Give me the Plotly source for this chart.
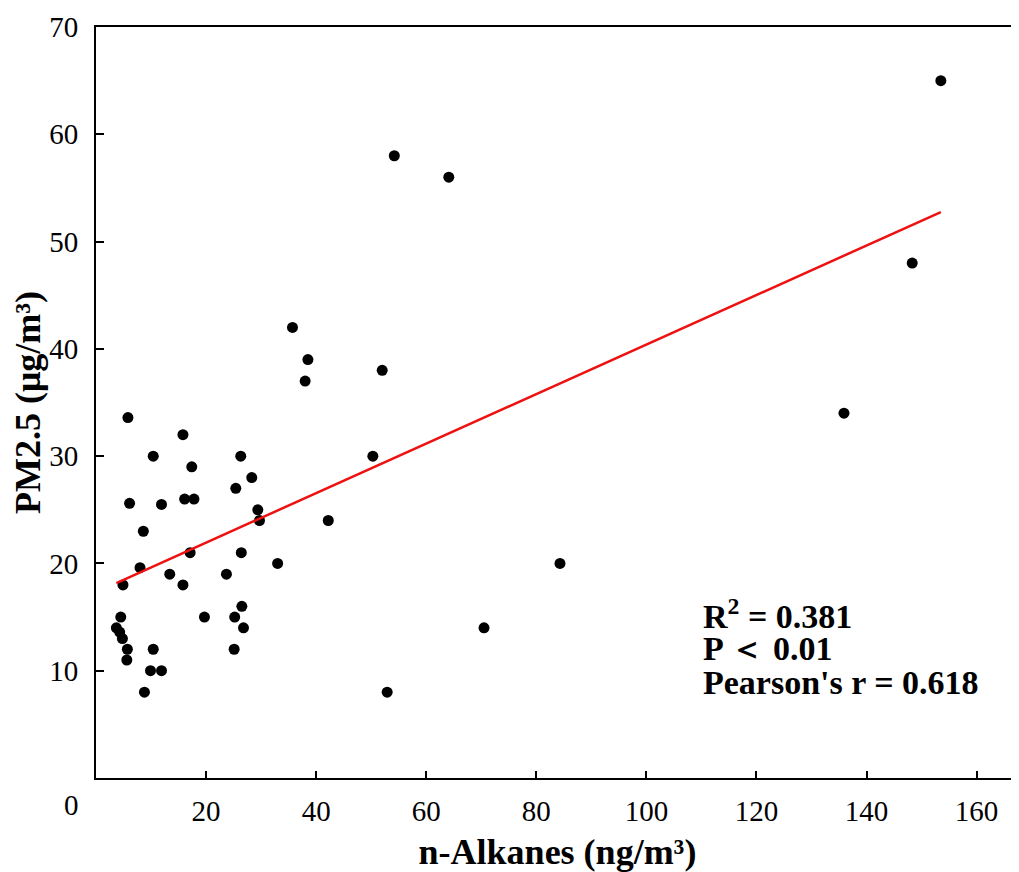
import plotly.graph_objects as go

# n-Alkanes (ng/m3) and PM2.5 (ug/m3)
alkanes = [5.8, 15.8, 10.4, 26.3, 17.4, 28.3, 25.4, 16.1, 17.8, 6.1,
           11.9, 29.4, 29.7, 42.2, 8.6, 17.1, 26.4, 8.0, 33.0, 13.4,
           23.7, 4.9, 15.8, 4.5, 19.7, 25.2, 26.5, 3.7, 4.3, 4.8,
           26.8, 5.7, 10.4, 25.1, 5.6, 9.9, 11.9, 8.8, 35.7, 38.5,
           38.0, 52.0, 50.3, 84.3, 70.5, 52.9, 54.2, 64.1, 153.5, 148.3,
           135.9]
pm25 = [33.6, 32.0, 30.0, 30.0, 29.0, 28.0, 27.0, 26.0, 26.0, 25.6,
        25.5, 25.0, 24.0, 24.0, 23.0, 21.0, 21.0, 19.6, 20.0, 19.0,
        19.0, 18.0, 18.0, 15.0, 15.0, 15.0, 16.0, 14.0, 13.6, 13.0,
        14.0, 12.0, 12.0, 12.0, 11.0, 10.0, 10.0, 8.0, 42.0, 39.0,
        37.0, 38.0, 30.0, 20.0, 14.0, 8.0, 58.0, 56.0, 65.0, 48.0,
        34.0]

# linear fit
fit_slope = 0.2308
fit_intercept = 17.32

x_ticks = [20, 40, 60, 80, 100, 120, 140, 160]
y_ticks = [10, 20, 30, 40, 50, 60, 70]

stats_lines = ["R<sup>2</sup> = 0.381", "P ＜ 0.01", "Pearson's r = 0.618"]
stats_y = [15.3, 12.1, 8.9]

serif = "Liberation Serif"

fx = [min(alkanes), max(alkanes)]
fy = [fit_intercept + fit_slope * v for v in fx]

fig = go.Figure()
fig.add_trace(go.Scatter(x=alkanes, y=pm25, mode="markers",
                         marker=dict(color="black", size=11),
                         showlegend=False, cliponaxis=False))
fig.add_trace(go.Scatter(x=fx, y=fy, mode="lines",
                         line=dict(color="#ee1111", width=2.5),
                         showlegend=False))

for txt, yy in zip(stats_lines, stats_y):
    fig.add_annotation(x=109.9, y=yy, xref="x", yref="y", text="<b>%s</b>" % txt,
                       showarrow=False, xanchor="left", yanchor="middle",
                       font=dict(family=serif, size=34, color="black"))

# origin label drawn left of the axis corner, as in the reference
fig.add_annotation(x=-0.0265, y=-0.036, xref="paper", yref="paper", text="0",
                   showarrow=False, xanchor="center", yanchor="middle",
                   font=dict(family=serif, size=29, color="black"))

fig.update_layout(
    width=1011, height=864,
    margin=dict(l=88, r=0, t=19, b=94),
    paper_bgcolor="white", plot_bgcolor="white",
    font=dict(family=serif, color="black"),
    xaxis=dict(range=[0, 167.7], tickvals=x_ticks, ticks="inside", ticklen=7,
               tickwidth=2, tickcolor="black", showline=True, linecolor="black",
               linewidth=2, mirror=True, showgrid=False, zeroline=False,
               tickfont=dict(family=serif, size=29), ticklabelstandoff=6,
               title=dict(text="<b>n-Alkanes (ng/m³)</b>", standoff=27,
                          font=dict(family=serif, size=36)),
               automargin=False),
    yaxis=dict(range=[0, 70], tickvals=y_ticks, ticks="inside", ticklen=8,
               tickwidth=2, tickcolor="black", showline=True, linecolor="black",
               linewidth=2, mirror=False, showgrid=False, zeroline=False,
               tickfont=dict(family=serif, size=29), ticklabelstandoff=10,
               title=dict(text="<b>PM2.5 (μg/m³)</b>", standoff=0,
                          font=dict(family=serif, size=36)),
               automargin=False),
)

fig.write_html("out.html")
